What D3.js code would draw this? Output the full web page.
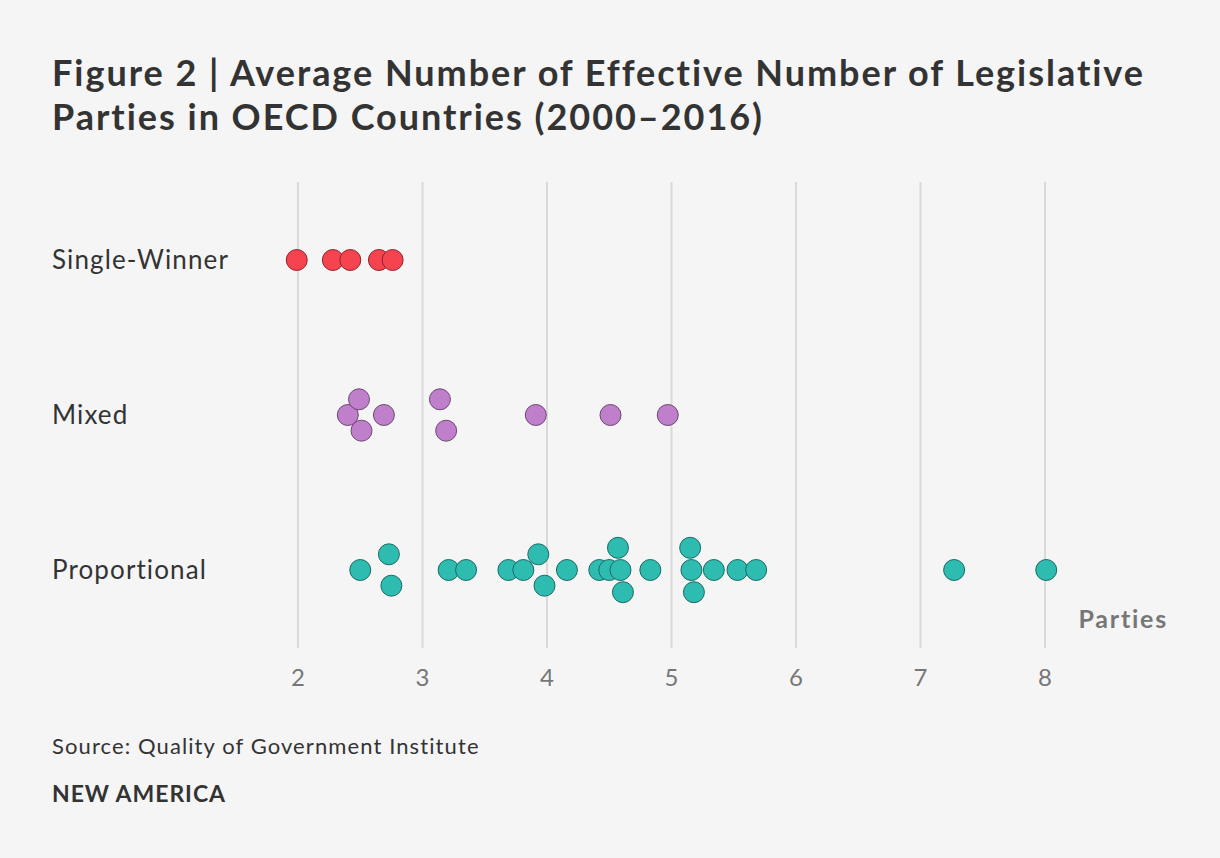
<!DOCTYPE html>
<html>
<head>
<meta charset="utf-8">
<script src="https://cdn.jsdelivr.net/npm/d3@7"></script>
<style>
  html, body { margin: 0; padding: 0; background: #f5f5f5; }
  svg { display: block; font-family: Lato, "Open Sans", sans-serif; }
</style>
</head>
<body>
<svg id="chart"></svg>
<script>
// categories (rows) and their colours
const systems = ["Single-Winner", "Mixed", "Proportional"];
const colors = ["#f5434f", "#bf7fcb", "#2ebcb1"];

// average effective number of legislative parties, one value per country
const singleWinner = [1.99, 2.28, 2.42, 2.65, 2.76];
const mixed = [2.40, 2.49, 2.51, 2.69, 3.14, 3.19, 3.91, 4.51, 4.97];
const proportional = [2.50, 2.73, 2.75, 3.21, 3.35, 3.69, 3.81, 3.93, 3.98, 4.16,
  4.42, 4.50, 4.57, 4.59, 4.61, 4.83, 5.15, 5.16, 5.18, 5.34, 5.53, 5.68, 7.27, 8.01];

const xTicks = [2, 3, 4, 5, 6, 7, 8];
const titleLines = [
  "Figure 2 | Average Number of Effective Number of Legislative",
  "Parties in OECD Countries (2000\u20132016)"
];

const width = 1220;
const height = 858;
const r = 10.5;

const svg = d3.select("#chart")
  .attr("width", width)
  .attr("height", height);

svg.append("rect")
  .attr("width", width)
  .attr("height", height)
  .attr("fill", "#f5f5f5");

const x = d3.scaleLinear().domain([2, 8]).range([298, 1045]);
const y = d3.scalePoint().domain(systems).range([260, 570]);

// widen a text with letter-spacing so it spans the reference width
function spread(node, target) {
  const w = node.getComputedTextLength();
  const n = node.textContent.length;
  return Math.max(0, (target - w) / n);
}

// title
const title = svg.append("g").attr("fill", "#333").attr("font-weight", 700);
title.selectAll("text")
  .data(titleLines)
  .enter()
  .append("text")
  .attr("x", 52)
  .attr("y", (d, i) => 86 + i * 44)
  .attr("font-size", 36)
  .text(d => d);
const ls = spread(title.select("text").node(), 1093);
title.selectAll("text").attr("letter-spacing", ls);

// grid lines
svg.append("g")
  .selectAll("line")
  .data(xTicks)
  .enter()
  .append("line")
  .attr("x1", d => x(d))
  .attr("x2", d => x(d))
  .attr("y1", 182)
  .attr("y2", 648)
  .attr("stroke", "#dadada")
  .attr("stroke-width", 2);

// tick labels
svg.append("g")
  .selectAll("text")
  .data(xTicks)
  .enter()
  .append("text")
  .attr("x", d => x(d))
  .attr("y", 678)
  .attr("dy", "0.35em")
  .attr("text-anchor", "middle")
  .attr("font-size", 24)
  .attr("fill", "#777")
  .text(d => d);

const parties = svg.append("text")
  .attr("x", 1168)
  .attr("y", 619)
  .attr("dy", "0.35em")
  .attr("text-anchor", "end")
  .attr("font-size", 25)
  .attr("font-weight", 700)
  .attr("fill", "#777")
  .text("Parties");
parties.attr("letter-spacing", spread(parties.node(), 90));

// row labels
const rowLabels = svg.append("g")
  .selectAll("text")
  .data(systems)
  .enter()
  .append("text")
  .attr("x", 52)
  .attr("y", d => y(d))
  .attr("dy", "0.35em")
  .attr("font-size", 26)
  .attr("fill", "#333")
  .text(d => d);
rowLabels.attr("letter-spacing", spread(rowLabels.node(), 177));

// simple beeswarm: values that nearly coincide are fanned out vertically
function swarm(values, system) {
  const sorted = values.slice().sort((a, b) => a - b);
  const groups = [];
  sorted.forEach(v => {
    const last = groups[groups.length - 1];
    if (last && x(v) - x(last[last.length - 1]) < 7) last.push(v);
    else groups.push([v]);
  });
  const out = [];
  groups.forEach(g => {
    const n = g.length;
    const step = n > 1 ? 31.4 / Math.pow(n - 1, 0.5) : 0;
    g.forEach((v, i) => {
      out.push({ system: system, value: v, dy: (i - (n - 1) / 2) * step });
    });
  });
  return out;
}

const series = [singleWinner, mixed, proportional];
const dots = [];
series.forEach((vals, i) => swarm(vals, systems[i]).forEach(d => dots.push(d)));

const color = d3.scaleOrdinal().domain(systems).range(colors);

svg.append("g")
  .selectAll("circle")
  .data(dots)
  .enter()
  .append("circle")
  .attr("cx", d => x(d.value))
  .attr("cy", d => y(d.system) + d.dy)
  .attr("r", r)
  .attr("fill", d => color(d.system))
  .attr("stroke", d => d3.color(color(d.system)).darker(1.6))
  .attr("stroke-width", 1);

// footer
const source = svg.append("text")
  .attr("x", 52)
  .attr("y", 754)
  .attr("font-size", 22)
  .attr("fill", "#333")
  .text("Source: Quality of Government Institute");
source.attr("letter-spacing", spread(source.node(), 428));

const brand = svg.append("text")
  .attr("x", 52)
  .attr("y", 802)
  .attr("font-size", 23)
  .attr("font-weight", 700)
  .attr("fill", "#333")
  .text("NEW AMERICA");
brand.attr("letter-spacing", spread(brand.node(), 174));
</script>
</body>
</html>
